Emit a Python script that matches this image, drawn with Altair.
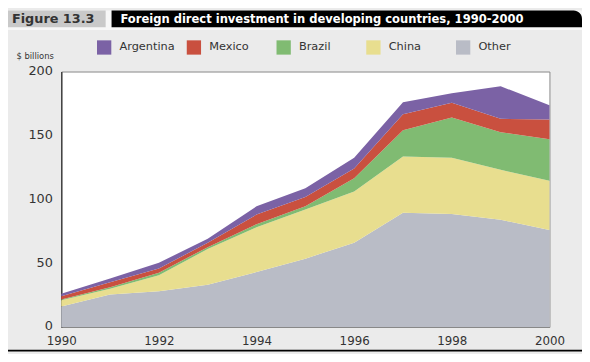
import altair as alt
import pandas as pd

years = [1990, 1991, 1992, 1993, 1994, 1995, 1996, 1997, 1998, 1999, 2000]
countries = ["Argentina", "Mexico", "Brazil", "China", "Other"]
colors = ["#7b62a5", "#c9503f", "#80bb72", "#e8de8f", "#b9bcc6"]

other = [16, 25.5, 28, 33, 43, 53.5, 66, 89.5, 88.5, 84, 76]
china = [5, 4.5, 12.5, 28, 35, 38.5, 40, 44, 44, 39, 38.5]
brazil = [0.5, 1, 2, 1.5, 2.5, 2.5, 10.5, 20.5, 31.5, 29.5, 32.5]
mexico = [2.5, 4, 3.2, 3.5, 7.5, 7.2, 7.5, 12.5, 11.5, 10.5, 15.5]
argentina = [2, 3, 4.6, 3, 6.5, 7, 8.5, 9.5, 7.5, 25.5, 11]

x_ticks = [1990, 1992, 1994, 1996, 1998, 2000]
y_ticks = [0, 50, 100, 150, 200]

series = {"Other": other, "China": china, "Brazil": brazil,
          "Mexico": mexico, "Argentina": argentina}
stack_rank = {name: i for i, name in enumerate(series)}
rows = []
for name, vals in series.items():
    for yr, v in zip(years, vals):
        rows.append({"year": yr, "country": name, "value": v, "rank": stack_rank[name]})
df = pd.DataFrame(rows)

FONT = "DejaVu Sans"

area = alt.Chart(df).mark_area(interpolate="linear").encode(
    x=alt.X("year:Q",
            scale=alt.Scale(domain=[1990, 2000], nice=False, zero=False),
            axis=alt.Axis(values=x_ticks, format="d", title=None, ticks=False,
                          labelPadding=9, labelFontSize=12, labelColor="#333",
                          labelFont=FONT, domainColor="#888", labelFlush=False,
                          grid=False)),
    y=alt.Y("value:Q", stack="zero",
            scale=alt.Scale(domain=[0, 200], nice=False),
            axis=alt.Axis(values=y_ticks, title="$ billions", titleAngle=0,
                          titleX=-27, titleY=-16, titleAlign="center",
                          titleBaseline="middle", titleFontSize=8.5,
                          titleFontWeight="normal", titleColor="#333",
                          titleFont=FONT, ticks=False, labelPadding=9,
                          labelFontSize=13, labelColor="#333", labelFont=FONT,
                          labelOffset=-1,
                          labelFlush=False, grid=False, domainColor="#444",
                          domainWidth=1.5)),
    color=alt.Color("country:N",
                    scale=alt.Scale(domain=countries, range=colors),
                    legend=alt.Legend(title=None, orient="none",
                                      direction="horizontal", legendX=36,
                                      legendY=-32, symbolType="square",
                                      symbolSize=210, symbolStrokeWidth=0,
                                      symbolOpacity=1,
                                      labelFontSize=11.5, labelColor="#333",
                                      labelFont=FONT, labelOffset=8,
                                      columnPadding=11, gridAlign="all",
                                      columns=5)),
    order=alt.Order("rank:Q", sort="ascending"),
)

deco_df = pd.DataFrame({"k": [0]})


def rect(x, x2, y, y2, color, **kw):
    return alt.Chart(deco_df).mark_rect(color=color, **kw).encode(
        x=alt.value(x), x2=alt.value(x2), y=alt.value(y), y2=alt.value(y2))


strip = rect(-54, 528, -62, -42, "#f7f7f7")
fig_box = rect(-54, 45, -62, -45, "#c9c9c9")
title_box = rect(51, 528, -62, -45, "#000000", cornerRadiusTopRight=16)
bottom_bar = rect(-54, 528, 282, 284, "#000000")

fig_text = alt.Chart(deco_df).mark_text(
    text="Figure 13.3", align="left", baseline="middle", font=FONT,
    fontSize=13, fontWeight="bold", color="#333333").encode(
    x=alt.value(-50), y=alt.value(-53))
title_text = alt.Chart(deco_df).mark_text(
    text="Foreign direct investment in developing countries, 1990-2000",
    align="left", baseline="middle", font="DejaVu Sans Condensed, Liberation Sans",
    fontSize=13, fontWeight="bold", color="#ffffff").encode(
    x=alt.value(60), y=alt.value(-53))

chart = alt.layer(strip, fig_box, title_box, bottom_bar, fig_text, title_text, area).properties(
    width=495, height=259,
    autosize=alt.AutoSizeParams(type="none"),
    padding={"left": 54, "top": 62, "right": 33, "bottom": 25},
    background="#ebebeb",
).configure_view(fill="white", stroke="#888", strokeWidth=1)

chart.save("out.html", embed_options={"renderer": "svg", "actions": False})
